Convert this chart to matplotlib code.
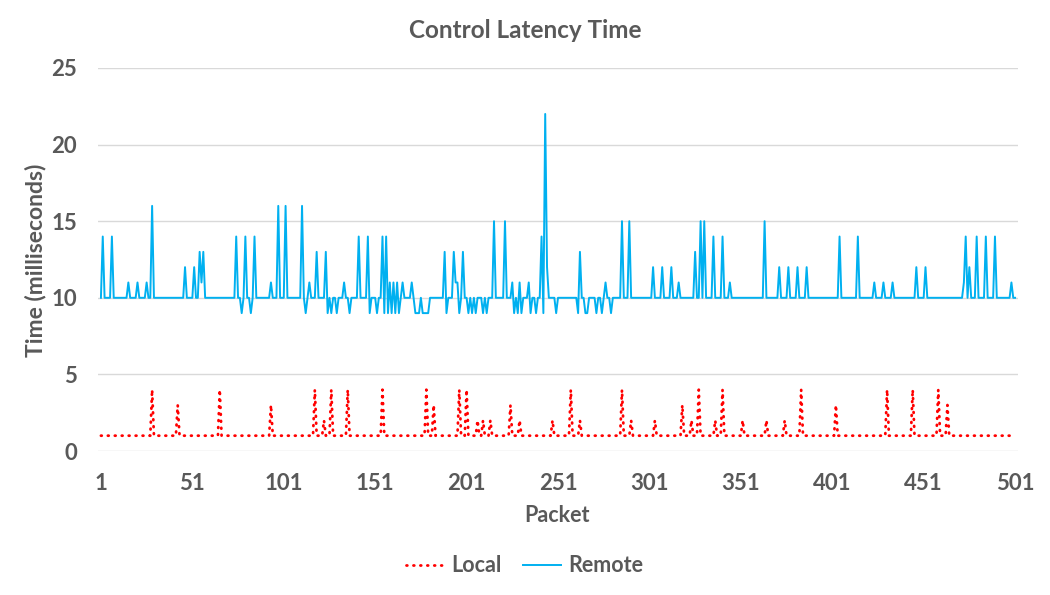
import matplotlib
matplotlib.use('Agg')
import matplotlib.pyplot as plt
import numpy as np

plt.rcParams['font.family'] = ['Lato', 'DejaVu Sans']

# packets 1..501
packets = np.arange(1, 502)

# Remote: sits at 10 ms; these are the packets that read differently
REMOTE_BASE = 10
remote_packets = [2, 7, 16, 21, 26, 29, 47, 52, 55, 56, 57, 75, 78, 80, 83, 85, 94, 98,
                  102, 111, 113, 115, 119, 124, 125, 127, 130, 134, 137, 142, 147, 148,
                  152, 155, 156, 157, 158, 159, 160, 161, 162, 163, 164, 166, 171, 173,
                  174, 175, 177, 178, 179, 180, 189, 190, 194, 195, 196, 197, 199, 202,
                  204, 206, 210, 212, 216, 222, 226, 227, 229, 230, 231, 235, 236, 239,
                  242, 243, 244, 245, 250, 262, 263, 266, 267, 272, 275, 277, 280, 286,
                  290, 303, 308, 313, 317, 326, 329, 331, 336, 341, 345, 364, 372, 377,
                  382, 387, 405, 415, 424, 429, 434, 447, 452, 473, 474, 476, 480, 485,
                  490, 499]
remote_values = [14, 14, 11, 11, 11, 16, 12, 12, 13, 11, 13, 14, 9, 14, 9, 14, 11, 16,
                 16, 16, 9, 11, 13, 13, 9, 9, 9, 11, 9, 14, 14, 9,
                 9, 14, 9, 14, 9, 11, 9, 11, 9, 11, 9, 11, 11, 9,
                 9, 9, 9, 9, 9, 9, 13, 9, 13, 11, 11, 9, 13, 9,
                 9, 9, 9, 9, 15, 15, 11, 9, 9, 11, 9, 11, 9, 9,
                 14, 9, 22, 12, 9, 9, 13, 9, 9, 9, 9, 11, 9, 15,
                 15, 12, 12, 12, 11, 13, 15, 15, 14, 14, 11, 15, 12, 12,
                 12, 12, 14, 14, 11, 11, 11, 12, 12, 11, 14, 12, 14, 14,
                 14, 11]

# Local: sits at 1 ms
LOCAL_BASE = 1
local_packets = [29, 43, 66, 94, 118, 123, 127, 136, 155, 179, 183, 197, 201, 207, 210,
                 214, 225, 230, 248, 258, 263, 286, 291, 304, 319, 324, 328, 337, 341,
                 352, 365, 375, 384, 403, 431, 445, 459, 464]
local_values = [4, 3, 4, 3, 4, 2, 4, 4, 4, 4, 3, 4, 4, 2, 2,
                2, 3, 2, 2, 4, 2, 4, 2, 2, 3, 2, 4, 2, 4,
                2, 2, 2, 4, 3, 4, 4, 4, 3]

remote = np.full(len(packets), REMOTE_BASE, dtype=float)
remote[np.array(remote_packets) - 1] = remote_values
local = np.full(len(packets), LOCAL_BASE, dtype=float)
local[np.array(local_packets) - 1] = local_values

TEXT = '#595959'
GRID = '#d9d9d9'
RED = '#ff0000'
BLUE = '#00b0f0'

fig = plt.figure(figsize=(10.5, 5.95), dpi=100)
ax = fig.add_axes([98 / 1050, 1 - 451 / 595, 920 / 1050, 383 / 595])

ax.plot(packets, local, color=RED, lw=2.0, linestyle=(0, (0.3, 2.2)),
        dash_capstyle='round', label='Local')
ax.plot(packets, remote, color=BLUE, lw=1.4, label='Remote')

ax.set_xlim(-0.6, 502.6)
ax.set_ylim(0, 25)
ax.set_yticks([0, 5, 10, 15, 20, 25])
ax.set_xticks(np.arange(1, 502, 50))
ax.grid(True, axis='y', color=GRID, lw=1)
ax.set_axisbelow(True)
for s in ax.spines.values():
    s.set_visible(False)
ax.tick_params(length=0, labelsize=16, labelcolor=TEXT)
ax.tick_params(axis='x', pad=16)
ax.tick_params(axis='y', pad=15)
for lab in ax.get_xticklabels() + ax.get_yticklabels():
    lab.set_fontweight('bold')

fig.text(0.5, 1 - 31 / 595, 'Control Latency Time', ha='center', va='center',
         fontsize=17.5, fontweight='bold', color=TEXT)
fig.text(557 / 1050, 1 - 516 / 595, 'Packet', ha='center', va='center',
         fontsize=15.5, fontweight='bold', color=TEXT)
fig.text(36 / 1050, 1 - 260 / 595, 'Time (milliseconds)', ha='center', va='center',
         rotation=90, fontsize=16.5, fontweight='bold', color=TEXT)

leg = fig.legend(loc='center', bbox_to_anchor=(525 / 1050, 1 - 566 / 595), ncol=2,
                 frameon=False, handlelength=1.75, handletextpad=0.35, columnspacing=1.0,
                 prop={'size': 15.5, 'weight': 'bold'})
for t in leg.get_texts():
    t.set_color(TEXT)

fig.savefig('out.png', dpi=100)
plt.close(fig)
